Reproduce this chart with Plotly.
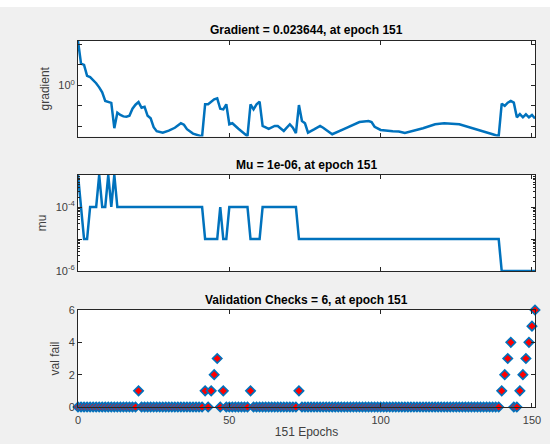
import plotly.graph_objects as go

# ---------------- data ----------------
grad_epochs = [0, 1, 2, 3, 4, 5, 6, 7, 8, 9, 10, 11, 12, 13, 14, 15, 16, 17, 18, 19,
               20, 21, 22, 23, 24, 25, 26, 28, 30, 32, 34, 35, 36, 38, 41, 42, 43, 44, 45, 46,
               47, 48, 49, 50, 51, 53, 55, 56, 57, 58, 59, 60, 61, 63, 65, 66, 68, 70, 71, 72,
               73, 74, 75, 76, 78, 80, 81, 84, 88, 93, 96, 97, 98, 100, 104, 106, 108, 111, 114, 118,
               121, 126, 130, 134, 137, 139, 140, 141, 142, 143, 144, 145, 146, 147, 148, 149, 150, 151]
grad_values = [148, 11.5, 10.0, 2.9, 2.5, 1.78, 1.26, 0.79, 0.45, 0.17, 0.15, 0.138, 0.0079, 0.045, 0.035, 0.030, 0.029, 0.032, 0.071, 0.112,
               0.151, 0.079, 0.089, 0.032, 0.024, 0.0089, 0.0056, 0.0047, 0.0060, 0.0083, 0.0138, 0.0117, 0.0071, 0.0043, 0.0031, 0.117, 0.117, 0.158, 0.204, 0.229,
               0.071, 0.066, 0.117, 0.0123, 0.0138, 0.0074, 0.0045, 0.0032, 0.117, 0.066, 0.117, 0.158, 0.0102, 0.0074, 0.0102, 0.0102, 0.0058, 0.0123, 0.0083, 0.0045,
               0.107, 0.0178, 0.0138, 0.0048, 0.0069, 0.0102, 0.0083, 0.0040, 0.0074, 0.0158, 0.0178, 0.0158, 0.0093, 0.0065, 0.0056, 0.0054, 0.0046, 0.0058, 0.0078, 0.0123,
               0.0138, 0.0123, 0.0083, 0.0058, 0.0040, 0.0032, 0.126, 0.098, 0.141, 0.170, 0.141, 0.027, 0.039, 0.027, 0.038, 0.027, 0.035, 0.023644]

mu_epochs = [0, 1, 2, 3, 4, 5, 6, 7, 8, 9, 10, 11, 12, 13, 41, 42, 46, 47, 48, 49, 50, 56, 57, 60, 61, 72, 73, 139, 140, 151]
mu_values = [1e-3, 1e-4, 1e-5, 1e-5, 1e-4, 1e-4, 1e-4, 1e-3, 1e-4, 1e-4, 1e-3, 1e-4, 1e-3, 1e-4, 1e-4, 1e-5, 1e-5, 1e-4, 1e-5, 1e-5,
             1e-4, 1e-4, 1e-5, 1e-5, 1e-4, 1e-4, 1e-5, 1e-5, 1e-6, 1e-6]

val_epochs = list(range(0, 152))
val_fail = [0, 0, 0, 0, 0, 0, 0, 0, 0, 0,
            0, 0, 0, 0, 0, 0, 0, 0, 0, 0,
            1, 0, 0, 0, 0, 0, 0, 0, 0, 0,
            0, 0, 0, 0, 0, 0, 0, 0, 0, 0,
            0, 0, 1, 0, 1, 2, 3, 0, 1, 0,
            0, 0, 0, 0, 0, 0, 0, 1, 0, 0,
            0, 0, 0, 0, 0, 0, 0, 0, 0, 0,
            0, 0, 0, 1, 0, 0, 0, 0, 0, 0,
            0, 0, 0, 0, 0, 0, 0, 0, 0, 0,
            0, 0, 0, 0, 0, 0, 0, 0, 0, 0,
            0, 0, 0, 0, 0, 0, 0, 0, 0, 0,
            0, 0, 0, 0, 0, 0, 0, 0, 0, 0,
            0, 0, 0, 0, 0, 0, 0, 0, 0, 0,
            0, 0, 0, 0, 0, 0, 0, 0, 0, 0,
            1, 2, 3, 4, 0, 0, 1, 2, 3, 4,
            5, 6]

x_ticks = [0, 50, 100, 150]
titles = ["Gradient = 0.023644, at epoch 151",
          "Mu = 1e-06, at epoch 151",
          "Validation Checks = 6, at epoch 151"]
ylabels = ["gradient", "mu", "val fail"]
xlabel = "151 Epochs"

# ---------------- style ----------------
BLUE = "#0072BD"
AX = "#262626"
TXT = "#404040"
FONT = "Liberation Sans, Arial, sans-serif"

W, H = 550, 444
ML, MR, MT, MB = 78, 15, 41, 37
PW = W - ML - MR
PH = H - MT - MB  # plot height in px


def fy(py):
    return (H - MB - py) / PH


fig = go.Figure()
fig.add_trace(go.Scatter(x=grad_epochs, y=grad_values, mode="lines",
                         line=dict(color=BLUE, width=2.5), xaxis="x", yaxis="y",
                         showlegend=False))
fig.add_trace(go.Scatter(x=mu_epochs, y=mu_values, mode="lines",
                         line=dict(color=BLUE, width=2.5), xaxis="x2", yaxis="y2",
                         showlegend=False))
fig.add_trace(go.Scatter(x=val_epochs, y=val_fail, mode="markers",
                         marker=dict(symbol="diamond", size=7.2, color="#FF0000",
                                     line=dict(color=BLUE, width=1.6)),
                         xaxis="x3", yaxis="y3", cliponaxis=False, showlegend=False))

common_x = dict(range=[0, 151], tickvals=x_ticks, ticks="inside", ticklen=4,
                tickcolor=AX, showline=True, linecolor=AX, linewidth=1,
                mirror="ticks", showgrid=False, zeroline=False, automargin=False,
                tickfont=dict(family=FONT, size=11, color=TXT))
common_y = dict(ticks="inside", ticklen=4, tickcolor=AX, showline=True,
                linecolor=AX, linewidth=1, mirror="ticks", showgrid=False,
                zeroline=False, automargin=False,
                tickfont=dict(family=FONT, size=11, color=TXT),
                title_font=dict(family=FONT, size=12, color=TXT), title_standoff=6)

dom_top = [fy(136.5), 1.0]
dom_mid = [fy(271), fy(175)]
dom_bot = [0.0, fy(310)]

minor_mu = [m * 10 ** e for e in (-6, -5, -4) for m in range(2, 10)]

fig.update_layout(
    width=W, height=H,
    margin=dict(l=ML, r=MR, t=MT, b=MB, pad=0),
    paper_bgcolor="#F0F0F0", plot_bgcolor="#FFFFFF",
    font=dict(family=FONT, size=11, color=TXT),
    xaxis=dict(common_x, anchor="y", showticklabels=False),
    xaxis2=dict(common_x, anchor="y2", showticklabels=False),
    xaxis3=dict(common_x, anchor="y3", showticklabels=True, ticklabelstandoff=3,
                title=dict(text=xlabel, font=dict(family=FONT, size=12, color=TXT), standoff=2)),
    yaxis=dict(common_y, type="log", domain=dom_top, anchor="x",
               range=[-2.509, 2.17],
               tickvals=[0.01, 0.1, 1, 10, 100],
               ticktext=["", "", "10<sup>0</sup>", "", ""],
               title=dict(text=ylabels[0])),
    yaxis2=dict(common_y, type="log", domain=dom_mid, anchor="x2",
                range=[-6, -3],
                tickvals=[1e-6, 1e-5, 1e-4, 1e-3],
                ticktext=["10<sup>-6</sup>", "", "10<sup>-4</sup>", ""],
                minor=dict(tickvals=minor_mu, ticks="inside", ticklen=2, tickcolor=AX),
                title=dict(text=ylabels[1])),
    yaxis3=dict(common_y, domain=dom_bot, anchor="x3",
                range=[0, 6], tickvals=[0, 2, 4, 6],
                title=dict(text=ylabels[2])),
)

# white strip at the very top of the window
fig.add_shape(type="rect", xref="paper", yref="paper",
              x0=-ML / PW, x1=1 + MR / PW, y0=fy(7), y1=fy(0),
              fillcolor="#FFFFFF", line=dict(width=0), layer="above")

# subplot titles
for t, py in zip(titles, [30, 165, 300]):
    fig.add_annotation(text="<b>" + t + "</b>", xref="paper", yref="paper",
                       x=0.5, y=fy(py), xanchor="center", yanchor="middle",
                       showarrow=False, font=dict(family=FONT, size=12, color="#000000"))

fig.write_html("out.html", config={"displayModeBar": False},
               post_script="document.body.style.margin='0';document.body.style.overflow='hidden';")
